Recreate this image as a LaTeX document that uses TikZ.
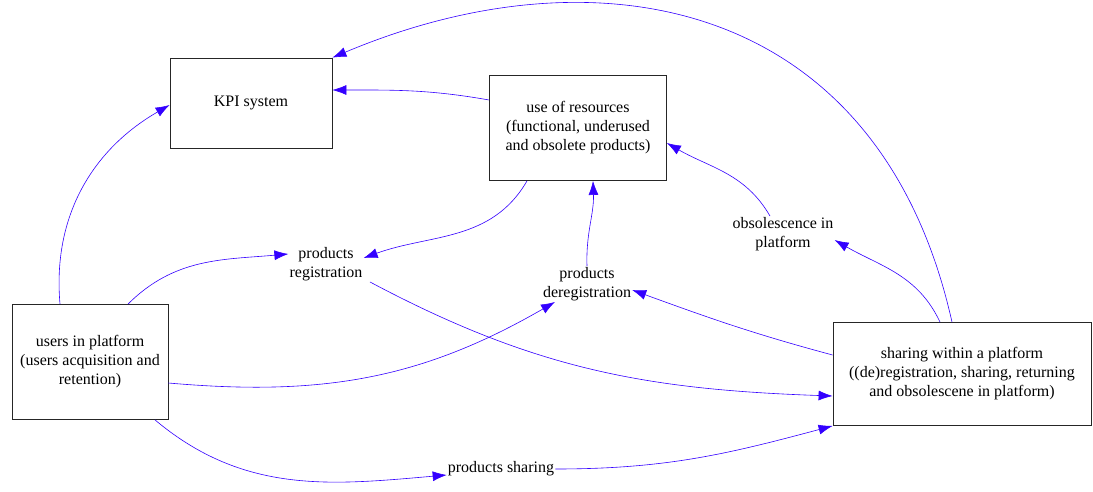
\documentclass[tikz,border=0pt]{standalone}
\usepackage{fontspec}
\setmainfont{Liberation Serif}
\usetikzlibrary{arrows.meta}
\definecolor{linkblue}{RGB}{51,0,255}

\begin{document}
\begin{tikzpicture}[x=1pt,y=-1pt,
  font=\fontsize{16}{19}\selectfont,
  box/.style={draw=black!85,line width=0.8pt,align=center,inner sep=0pt},
  lbl/.style={align=center,inner sep=1pt},
  link/.style={draw=linkblue,line width=0.6pt,-{Latex[length=14pt,width=10pt]}}]

\useasboundingbox (0,0) rectangle (1093,492);

% boxes
\node[box,minimum width=162,minimum height=90] (kpi) at (251,103) {KPI system};
\node[box,minimum width=177,minimum height=105] (res) at (578,128)
  {use of resources\\(functional, underused\\and obsolete products)};
\node[box,minimum width=156,minimum height=115] (users) at (90,362)
  {users in platform\\(users acquisition and\\retention)};
\node[box,minimum width=258,minimum height=103] (sharing) at (962,374)
  {sharing within a platform\\((de)registration, sharing, returning\\and obsolescene in platform)};

% free labels
\node[lbl] (reg) at (326,264) {products\\registration};
\node[lbl] (dereg) at (587,284) {products\\deregistration};
\node[lbl] (obs) at (783,234) {obsolescence in\\platform};
\node[lbl] (shar) at (501,469) {products sharing};

% connectors
\draw[link] ([xshift=-10]sharing.north) .. controls (880,0) and (600,-55) .. (kpi.north east);
\draw[link] ([yshift=28]res.west) to[out=170,in=0] ([yshift=13]kpi.east);
\draw[link] ([xshift=-30]users.north) to[out=95,in=210] ([yshift=-2]kpi.west);
\draw[link] ([xshift=38]users.north) to[out=45,in=185] ([yshift=10]reg.west);
\draw[link] ([xshift=-51]res.south) to[out=240,in=20] ([yshift=6]reg.east);
\draw[link] ([xshift=44]reg.south) to[out=-28,in=178] ([yshift=-22]sharing.west);
\draw[link] ([yshift=-21]users.east) to[out=-5,in=210] ([xshift=-32]dereg.south);
\draw[link] (dereg.north) to[out=92,in=-88] ([xshift=15]res.south);
\draw[link] ([yshift=19]sharing.west) to[out=165,in=-20] ([yshift=-6]dereg.east);
\draw[link] ([xshift=-13]obs.north) to[out=120,in=-30] ([yshift=-15]res.east);
\draw[link] ([xshift=-22]sharing.north) to[out=115,in=-30] ([yshift=-6]obs.east);
\draw[link] ([xshift=65]users.south) to[out=-40,in=185] ([yshift=-6]shar.west);
\draw[link] (shar.east) to[out=0,in=195] (sharing.south west);

\end{tikzpicture}
\end{document}
